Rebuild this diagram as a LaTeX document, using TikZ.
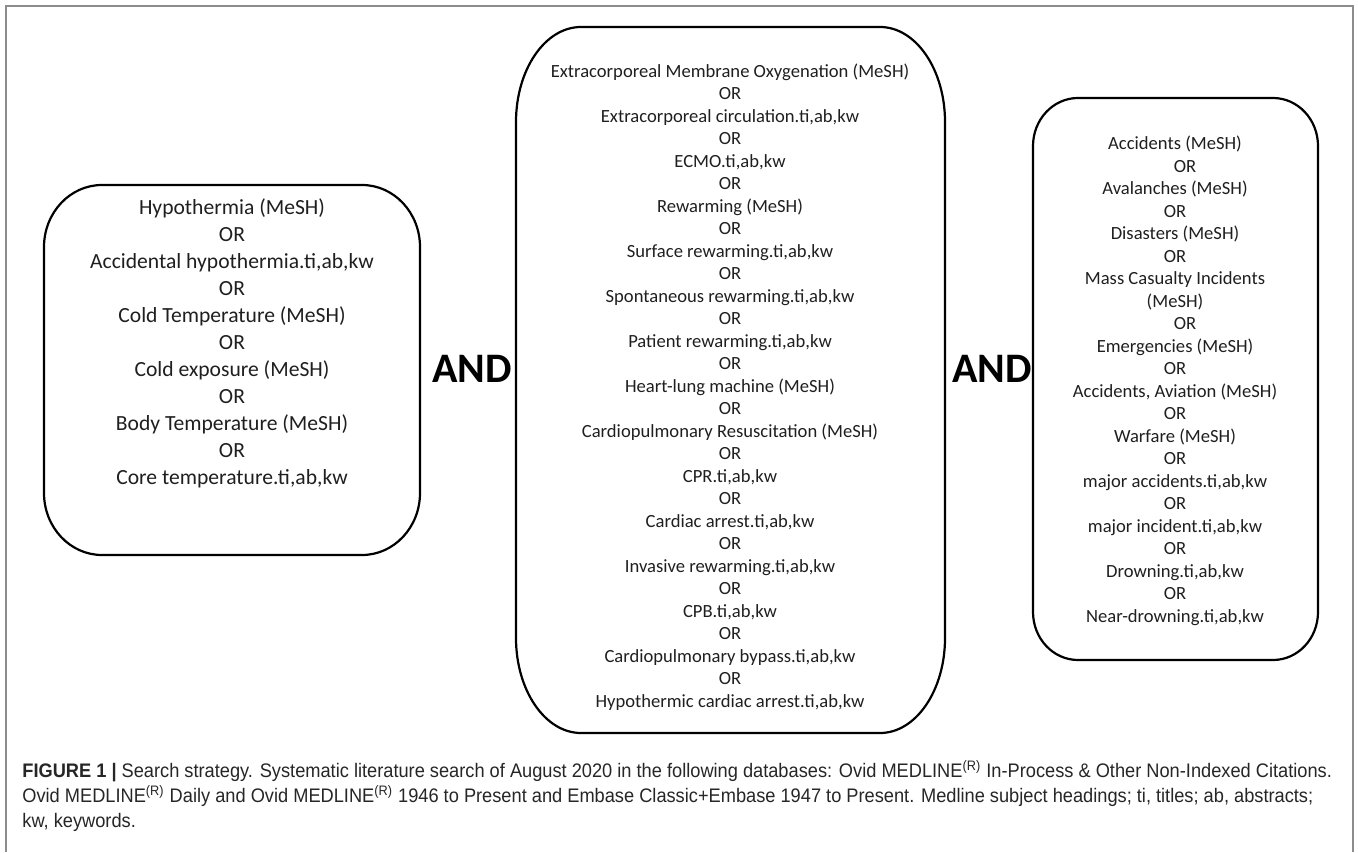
\documentclass[tikz,border=0pt]{standalone}
\usepackage{fontspec}
\setmainfont{Carlito}
\newfontfamily\capfont[FakeStretch=0.93]{Liberation Sans}
% box with elliptic corners: left, bottom, right, top, x radius, y radius
\newcommand{\ovalbox}[6]{\draw[boxline] (#1+#5,#4) -- (#3-#5,#4)
  arc[start angle=90, end angle=0, x radius=#5, y radius=#6] -- (#3,#2+#6)
  arc[start angle=0, end angle=-90, x radius=#5, y radius=#6] -- (#1+#5,#2)
  arc[start angle=270, end angle=180, x radius=#5, y radius=#6] -- (#1,#4-#6)
  arc[start angle=180, end angle=90, x radius=#5, y radius=#6] -- cycle;}

\begin{document}
\begin{tikzpicture}[x=0.5pt, y=0.5pt,
 boxline/.style={draw=black, line width=1.1pt},
 terms/.style={align=center, text=black!88, inner sep=0pt, font=\fontsize{9.3}{11.25}\selectfont},
 bigterms/.style={terms, font=\fontsize{10.8}{13.5}\selectfont},
 joiner/.style={anchor=base, inner sep=0pt, font=\fontsize{21}{25}\selectfont\bfseries},
 capnode/.style={anchor=north west, align=left, inner sep=0pt, text=black!85, font=\capfont\fontsize{9.8}{12.5}\selectfont}]

 \useasboundingbox (0,0) rectangle (1358,852);
 \draw[black!45, line width=0.8pt] (6,0) -- (6,846) -- (1353,846) -- (1353,0);

 \ovalbox{44}{297}{420}{667}{58}{62}
 \ovalbox{516}{119}{945}{825}{65}{95}
 \ovalbox{1033}{192}{1318}{754}{45}{48}

 \node[bigterms] (cold) at (232,509) {Hypothermia (MeSH)\\OR\\Accidental hypothermia.ti,ab,kw\\OR\\
  Cold Temperature (MeSH)\\OR\\Cold exposure (MeSH)\\OR\\Body Temperature (MeSH)\\OR\\Core temperature.ti,ab,kw};

 \node[terms] (rewarm) at (730,465) {Extracorporeal Membrane Oxygenation (MeSH)\\OR\\
  Extracorporeal circulation.ti,ab,kw\\OR\\ECMO.ti,ab,kw\\OR\\Rewarming (MeSH)\\OR\\
  Surface rewarming.ti,ab,kw\\OR\\Spontaneous rewarming.ti,ab,kw\\OR\\Patient rewarming.ti,ab,kw\\OR\\
  Heart-lung machine (MeSH)\\OR\\Cardiopulmonary Resuscitation (MeSH)\\OR\\CPR.ti,ab,kw\\OR\\
  Cardiac arrest.ti,ab,kw\\OR\\Invasive rewarming.ti,ab,kw\\OR\\CPB.ti,ab,kw\\OR\\
  Cardiopulmonary bypass.ti,ab,kw\\OR\\Hypothermic cardiac arrest.ti,ab,kw};

 \node[terms] (accid) at (1175,471) {Accidents (MeSH)\\\hspace*{10pt}OR\\Avalanches (MeSH)\\OR\\Disasters (MeSH)\\OR\\
  Mass Casualty Incidents\\(MeSH)\\\hspace*{10pt}OR\\Emergencies (MeSH)\\OR\\Accidents, Aviation (MeSH)\\OR\\
  Warfare (MeSH)\\OR\\major accidents.ti,ab,kw\\OR\\major incident.ti,ab,kw\\OR\\
  Drowning.ti,ab,kw\\OR\\Near-drowning.ti,ab,kw};

 \node[joiner] (and1) at (472,469) {AND};
 \node[joiner] (and2) at (992,469) {AND};

 \node[capnode] (caption) at (22,92) {\textbf{FIGURE 1 |} Search strategy. Systematic literature search of August 2020 in the following databases: Ovid MEDLINE\textsuperscript{(R)} In-Process \& Other Non-Indexed Citations.\\
  Ovid MEDLINE\textsuperscript{(R)} Daily and Ovid MEDLINE\textsuperscript{(R)} 1946 to Present and Embase Classic+Embase 1947 to Present. Medline subject headings; ti, titles; ab, abstracts;\\
  kw, keywords.};
\end{tikzpicture}
\end{document}
